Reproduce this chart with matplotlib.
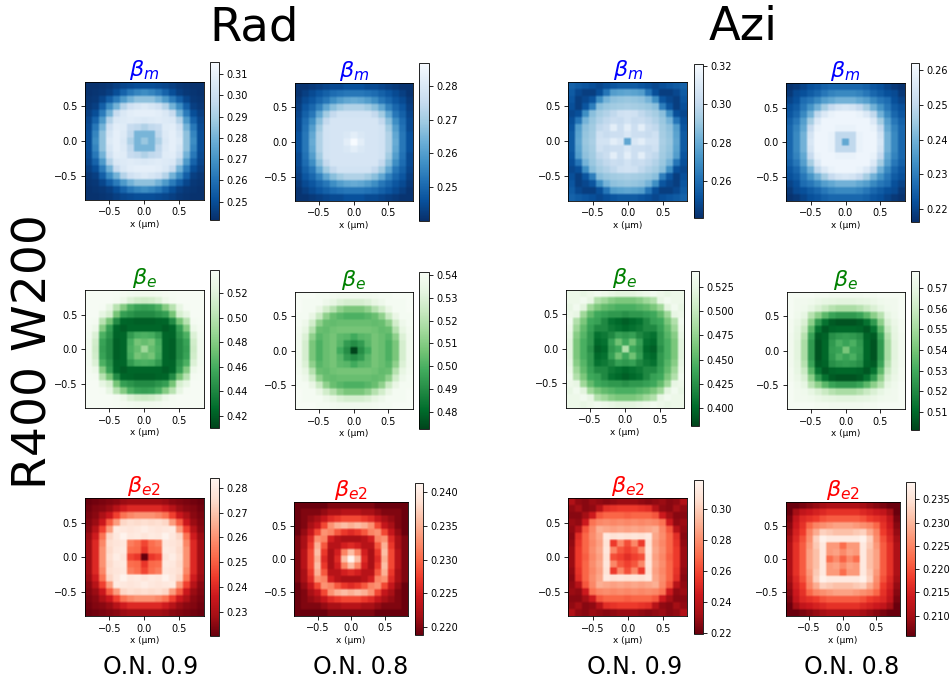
import numpy as np
import matplotlib
matplotlib.use("Agg")
import matplotlib.pyplot as plt

W, H = 952, 684

# Each table lists one octant of a symmetric 17x17 map: row r = max(|i|,|j|), column c = min(|i|,|j|)
rad_m_09 = [[.287],[.281,.281],[.292,.296,.298],[.305,.306,.307,.306],[.309,.309,.308,.305,.298],
 [.306,.304,.301,.293,.280,.268],[.285,.285,.280,.272,.263,.255,.248],[.268,.266,.262,.256,.250,.246,.244,.243],
 [.250,.250,.249,.248,.246,.244,.243,.242,.242]]
rad_m_08 = [[.2867],[.282,.280],[.279,.279,.279],[.279,.279,.279,.279],[.278,.278,.278,.275,.270],
 [.272,.272,.270,.267,.262,.255],[.263,.262,.260,.257,.253,.250,.247],[.253,.253,.252,.251,.249,.247,.245,.243],
 [.246,.246,.245,.245,.244,.243,.242,.241,.241]]
azi_m_09 = [[.278],[.309,.304],[.313,.304,.313],[.306,.302,.303,.300],[.306,.305,.300,.296,.293],
 [.294,.293,.292,.290,.287,.265],[.290,.289,.288,.283,.270,.252,.248],[.278,.277,.275,.262,.250,.245,.245,.248],
 [.254,.254,.252,.250,.248,.250,.252,.254,.256]]
azi_m_08 = [[.238],[.250,.250],[.259,.259,.260],[.260,.260,.260,.260],[.260,.260,.259,.256,.250],
 [.255,.254,.251,.246,.240,.234],[.240,.240,.238,.236,.232,.229,.227],[.232,.232,.231,.229,.226,.224,.222,.221],
 [.226,.226,.226,.225,.223,.222,.220,.218,.217]]
rad_e_09 = [[.490],[.470,.475],[.462,.460,.450],[.424,.424,.424,.420],[.421,.421,.423,.424,.442],
 [.442,.442,.447,.452,.475,.515],[.452,.454,.462,.480,.500,.525,.537],[.510,.512,.518,.530,.536,.538,.538,.538],
 [.533,.533,.534,.536,.537,.538,.538,.538,.538]]
rad_e_08 = [[.4722],[.490,.494],[.498,.502,.503],[.507,.507,.507,.506],[.505,.505,.505,.504,.505],
 [.500,.500,.502,.505,.512,.525],[.508,.508,.512,.520,.527,.535,.540],[.528,.528,.530,.534,.537,.540,.540,.540],
 [.538,.538,.538,.539,.540,.540,.541,.541,.541]]
azi_e_09 = [[.490],[.440,.460],[.430,.435,.420],[.400,.405,.410,.420],[.395,.400,.405,.420,.435],
 [.425,.430,.430,.435,.440,.455],[.445,.445,.450,.455,.465,.480,.520],[.465,.465,.470,.480,.490,.525,.535,.530],
 [.520,.520,.525,.530,.535,.530,.525,.530,.530]]
azi_e_08 = [[.541],[.528,.532],[.526,.525,.522],[.510,.510,.509,.506],[.505,.505,.507,.513,.525],
 [.525,.525,.528,.535,.545,.555],[.552,.552,.555,.560,.565,.570,.574],[.568,.568,.569,.570,.572,.574,.575,.575],
 [.575,.575,.575,.576,.576,.577,.577,.577,.577]]
rad_e2_09 = [[.2205],[.243,.252],[.246,.253,.256],[.278,.280,.279,.283],[.281,.279,.278,.279,.280],
 [.276,.275,.276,.274,.262,.250],[.260,.260,.258,.254,.245,.236,.230],[.240,.240,.240,.237,.232,.227,.225,.224],
 [.228,.228,.228,.227,.225,.224,.223,.222,.221]]
rad_e2_08 = [[.2414],[.236,.232],[.226,.225,.223],[.222,.222,.223,.225],[.226,.227,.229,.232,.233],
 [.235,.236,.235,.233,.228,.224],[.228,.228,.227,.226,.224,.222,.221],[.223,.223,.222,.222,.221,.220,.220,.220],
 [.220,.220,.220,.220,.219,.219,.219,.219,.219]]
azi_e2_09 = [[.252],[.258,.264],[.262,.278,.256],[.308,.310,.308,.312],[.286,.288,.286,.288,.290],
 [.278,.280,.278,.280,.278,.272],[.266,.268,.268,.268,.264,.245,.232],[.256,.256,.254,.252,.238,.228,.226,.232],
 [.230,.230,.228,.226,.228,.230,.226,.228,.236]]
azi_e2_08 = [[.2215],[.2255,.228],[.2225,.227,.227],[.2365,.2365,.2365,.2380],[.231,.231,.232,.233,.229],
 [.228,.228,.227,.226,.225,.222],[.221,.221,.221,.220,.218,.217,.216],[.217,.217,.217,.216,.215,.214,.213,.210],
 [.211,.211,.211,.210,.209,.208,.207,.206,.206]]

tables = [rad_m_09, rad_m_08, azi_m_09, azi_m_08,
          rad_e_09, rad_e_08, azi_e_09, azi_e_08,
          rad_e2_09, rad_e2_08, azi_e2_09, azi_e2_08]
vranges = [(.2414,.3156),(.2401,.2867),(.2405,.3211),(.2163,.2621),
           (.41,.5387),(.4722,.5412),(.3818,.5408),(.5013,.5782),
           (.2203,.2838),(.2188,.2414),(.2194,.3187),(.2057,.2387)]
cbar_ticks = [[.25,.26,.27,.28,.29,.30,.31],[.25,.26,.27,.28],[.26,.28,.30,.32],[.22,.23,.24,.25,.26],
              [.42,.44,.46,.48,.50,.52],[.48,.49,.50,.51,.52,.53,.54],[.400,.425,.450,.475,.500,.525],[.51,.52,.53,.54,.55,.56,.57],
              [.23,.24,.25,.26,.27,.28],[.220,.225,.230,.235,.240],[.22,.24,.26,.28,.30],[.210,.215,.220,.225,.230,.235]]
tick_fmts = ['%.2f']*6 + ['%.3f','%.2f'] + ['%.2f','%.3f','%.2f','%.3f']
titles = [r'$\beta_m$']*4 + [r'$\beta_e$']*4 + [r'$\beta_{e2}$']*4
colors = ['blue']*4 + ['green']*4 + ['red']*4
cmaps = ['Blues_r']*4 + ['Greens_r']*4 + ['Reds_r']*4

# layout in image pixels: axes (l, r, t, b), colorbar (l, r, t, b)
ax_px = [(85,203.7,82,200),(295,412.7,83.3,200.7),(568.3,687.3,82,200.7),(786.3,904.7,83.3,201),
         (85,203.7,290.3,408.3),(295,412.7,292.3,409.3),(565.7,684,289.7,407.7),(786.7,904.7,292,409.3),
         (85,203.7,498.3,616.3),(294.3,408,502.3,615.7),(568.3,687.3,498.3,616.3),(785.7,899.7,502.3,615.7)]
cb_px = [(210.3,219,62,220),(419.3,429,63.3,220.7),(693.7,703,64,218),(911,919.3,63,221.7),
         (210.3,219,270,428),(419.3,429,272.3,429.3),(690.7,699,271.3,426),(911,919.3,271,430),
         (210.3,219,478.3,636),(414.7,422.7,482.7,635),(693.7,703,480,634),(906.3,915,482.3,635.7)]


def expand(tri):
    n = len(tri)
    out = np.zeros((2*n-1, 2*n-1))
    for i in range(-n+1, n):
        for j in range(-n+1, n):
            a, b = abs(i), abs(j)
            out[i+n-1, j+n-1] = tri[max(a, b)][min(a, b)]
    # keep the cells visible but soften their edges as in the reference
    return np.repeat(np.repeat(out, 3, axis=0), 3, axis=1)


def rect(p):
    l, r, t, b = p
    return [l/W, 1-b/H, (r-l)/W, (b-t)/H]


fig = plt.figure(figsize=(W/100, H/100), dpi=100)
for k in range(12):
    ax = fig.add_axes(rect(ax_px[k]))
    im = ax.imshow(expand(tables[k]), cmap=cmaps[k], vmin=vranges[k][0], vmax=vranges[k][1],
                   extent=(-.85,.85,-.85,.85), origin='lower', interpolation='bilinear', aspect='auto')
    ax.set_xticks([-.5,0,.5]); ax.set_yticks([-.5,0,.5])
    ax.tick_params(labelsize=7, length=2.6, width=.6, pad=2.6)
    ax.set_xlabel('x (µm)', fontsize=6.4, labelpad=2)
    ax.set_title(titles[k], color=colors[k], fontsize=16, pad=2)
    for s in ax.spines.values():
        s.set_linewidth(.6)
    cax = fig.add_axes(rect(cb_px[k]))
    cb = fig.colorbar(im, cax=cax, ticks=cbar_ticks[k], format=tick_fmts[k])
    cb.ax.tick_params(labelsize=7, length=2.6, width=.6, pad=2.6)
    cb.outline.set_linewidth(.6)

fig.text(254.5/W, 1-28/H, 'Rad', fontsize=33.5, ha='center', va='center')
fig.text(743/W, 1-28/H, 'Azi', fontsize=33.5, ha='center', va='center')
fig.text(34/W, 1-352/H, 'R400 W200', fontsize=34, rotation=90, ha='center', va='center')
for x, s in zip([151, 361, 635, 852], ['O.N. 0.9', 'O.N. 0.8', 'O.N. 0.9', 'O.N. 0.8']):
    fig.text(x/W, 1-667/H, s, fontsize=17, ha='center', va='center')

fig.savefig('out.png', dpi=100)
